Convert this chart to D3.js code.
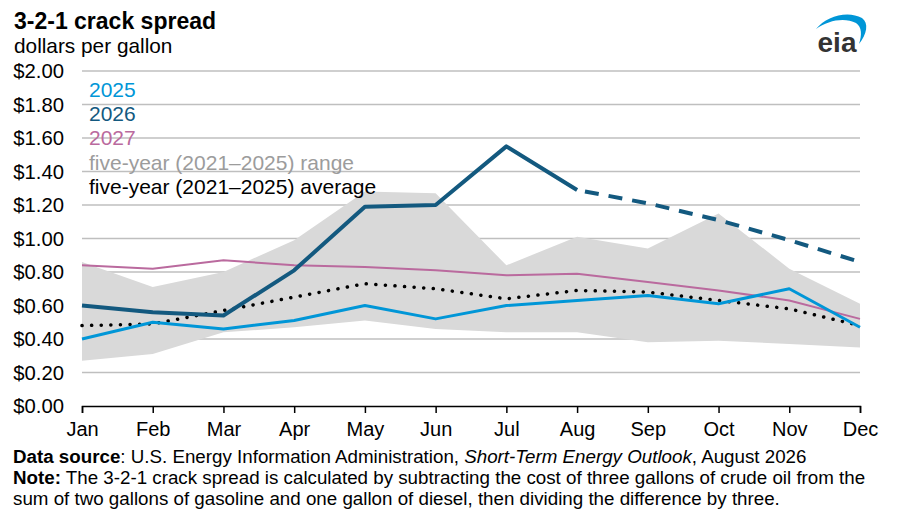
<!DOCTYPE html>
<html>
<head>
<meta charset="utf-8">
<script src="https://cdn.jsdelivr.net/npm/d3@7"></script>
<style>
  body { margin: 0; background: #fff; }
  svg { display: block; font-family: "Liberation Sans", Arial, sans-serif; }
</style>
</head>
<body>
<div id="chart"></div>
<script>
// Monthly values, dollars per gallon
const months = ['Jan', 'Feb', 'Mar', 'Apr', 'May', 'Jun', 'Jul', 'Aug', 'Sep', 'Oct', 'Nov', 'Dec'];
const yTicks = [0, 0.2, 0.4, 0.6, 0.8, 1.0, 1.2, 1.4, 1.6, 1.8, 2.0];

const values2025 = [0.40, 0.50, 0.46, 0.51, 0.60, 0.52, 0.60, 0.63, 0.66, 0.61, 0.70, 0.47];
const values2026 = [0.60, 0.56, 0.54, 0.81, 1.19, 1.20, 1.55, 1.29, 1.21, 1.11, 0.99, 0.86];
const forecastStart = 7; // Aug onward is dashed
const values2027 = [0.84, 0.82, 0.87, 0.84, 0.83, 0.81, 0.78, 0.79, 0.74, 0.69, 0.63, 0.52];
const avgValues = [0.48, 0.49, 0.57, 0.65, 0.73, 0.70, 0.64, 0.69, 0.68, 0.63, 0.58, 0.48];
const rangeHigh = [0.86, 0.71, 0.80, 0.99, 1.28, 1.27, 0.84, 1.01, 0.94, 1.15, 0.82, 0.61];
const rangeLow = [0.27, 0.31, 0.44, 0.47, 0.51, 0.46, 0.44, 0.44, 0.38, 0.39, 0.37, 0.35];

const colors = {
    c2025: '#0096D7',
    c2026: '#13597F',
    c2027: '#BA6A9E',
    range: '#D9D9D9',
    rangeText: '#9C9C9C',
    grid: '#BFBFBF'
};

const W = 900, H = 517;
const svg = d3.select('#chart').append('svg')
    .attr('width', W)
    .attr('height', H);

const x = d3.scalePoint().domain(months).range([82, 860]);
const y = d3.scaleLinear().domain([0, 2]).range([406, 71]);

// Title block
svg.append('text')
    .attr('x', 14).attr('y', 29)
    .style('font-size', '23px').style('font-weight', 'bold')
    .text('3-2-1 crack spread');
svg.append('text')
    .attr('x', 14).attr('y', 53)
    .style('font-size', '20.8px')
    .text('dollars per gallon');

// Gridlines
svg.append('g')
    .selectAll('line')
    .data(yTicks.filter(d => d > 0))
    .enter()
    .append('line')
    .attr('x1', x.range()[0]).attr('x2', x.range()[1])
    .attr('y1', d => y(d)).attr('y2', d => y(d))
    .attr('stroke', colors.grid)
    .attr('stroke-width', 1.5);

// Y axis labels
const yAxis = d3.axisLeft(y)
    .tickValues(yTicks)
    .tickSize(0)
    .tickPadding(18)
    .tickFormat(d => '$' + d.toFixed(2));
const yg = svg.append('g')
    .attr('transform', `translate(${x.range()[0]},0)`)
    .call(yAxis);
yg.select('.domain').remove();
yg.selectAll('text')
    .style('font-size', '20.3px')
    .style('font-family', '"Liberation Sans", Arial, sans-serif')
    .attr('fill', '#000');

// Five-year range
const area = d3.area()
    .x((d, i) => x(months[i]))
    .y0((d, i) => y(rangeLow[i]))
    .y1(d => y(d));
svg.append('path')
    .datum(rangeHigh)
    .attr('fill', colors.range)
    .attr('d', area);

// X axis
const xAxis = d3.axisBottom(x)
    .tickSizeInner(7)
    .tickSizeOuter(7)
    .tickPadding(9);
const xg = svg.append('g')
    .attr('transform', `translate(0,${y(0)})`)
    .call(xAxis);
xg.select('.domain').attr('stroke', '#000').attr('stroke-width', 1.5);
xg.selectAll('.tick line').attr('stroke', '#000').attr('stroke-width', 1.5);
xg.selectAll('text')
    .style('font-size', '20px')
    .style('font-family', '"Liberation Sans", Arial, sans-serif')
    .attr('fill', '#000');

const line = d3.line()
    .x(d => x(d.m))
    .y(d => y(d.v));
const toPoints = arr => arr.map((v, i) => ({ m: months[i], v: v }));

// 2027
svg.append('path')
    .datum(toPoints(values2027))
    .attr('fill', 'none')
    .attr('stroke', colors.c2027)
    .attr('stroke-width', 2)
    .attr('d', line);

// five-year average (dotted)
svg.append('path')
    .datum(toPoints(avgValues))
    .attr('fill', 'none')
    .attr('stroke', '#000')
    .attr('stroke-width', 3.5)
    .attr('stroke-linecap', 'round')
    .attr('stroke-dasharray', '0.1,9.5')
    .attr('d', line);

// 2025
svg.append('path')
    .datum(toPoints(values2025))
    .attr('fill', 'none')
    .attr('stroke', colors.c2025)
    .attr('stroke-width', 3)
    .attr('stroke-linejoin', 'round')
    .attr('d', line);

// 2026 history + forecast
const pts2026 = toPoints(values2026);
svg.append('path')
    .datum(pts2026.slice(0, forecastStart + 1))
    .attr('fill', 'none')
    .attr('stroke', colors.c2026)
    .attr('stroke-width', 4)
    .attr('stroke-linejoin', 'round')
    .attr('d', line);
svg.append('path')
    .datum(pts2026.slice(forecastStart))
    .attr('fill', 'none')
    .attr('stroke', colors.c2026)
    .attr('stroke-width', 4)
    .attr('stroke-dasharray', '14,10')
    .attr('stroke-dashoffset', -8)
    .attr('d', line);

// Legend (text only)
const legendItems = [
    { label: '2025', color: colors.c2025 },
    { label: '2026', color: colors.c2026 },
    { label: '2027', color: colors.c2027 },
    { label: 'five-year (2021\u20132025) range', color: colors.rangeText },
    { label: 'five-year (2021\u20132025) average', color: '#000' }
];
svg.append('g')
    .selectAll('text')
    .data(legendItems)
    .enter()
    .append('text')
    .attr('x', 89)
    .attr('y', (d, i) => 97 + i * 24.2)
    .style('font-size', '21px')
    .attr('fill', d => d.color)
    .text(d => d.label);

// eia logo
const logo = svg.append('g');
logo.append('path')
    .attr('d', 'M816,29 C826,16 848,10 862,18 C869,23 867,34 859,44 C862,35 862,27 856,23 C845,17 828,20 816,29 Z')
    .attr('fill', colors.c2025);
logo.append('text')
    .attr('x', 837).attr('y', 52)
    .attr('text-anchor', 'middle')
    .style('font-size', '28px')
    .style('font-weight', 'bold')
    .attr('fill', '#333')
    .text('eia');

// Footer notes
const foot = svg.append('g').style('font-size', '18.75px');
const l1 = foot.append('text').attr('x', 13).attr('y', 463);
l1.append('tspan').style('font-weight', 'bold').text('Data source');
l1.append('tspan').text(': U.S. Energy Information Administration, ');
l1.append('tspan').style('font-style', 'italic').text('Short-Term Energy Outlook');
l1.append('tspan').text(', August 2026');

const l2 = foot.append('text').attr('x', 13).attr('y', 484);
l2.append('tspan').style('font-weight', 'bold').text('Note:');
l2.append('tspan').text(' The 3-2-1 crack spread is calculated by subtracting the cost of three gallons of crude oil from the');

foot.append('text').attr('x', 13).attr('y', 505)
    .text('sum of two gallons of gasoline and one gallon of diesel, then dividing the difference by three.');
</script>
</body>
</html>
